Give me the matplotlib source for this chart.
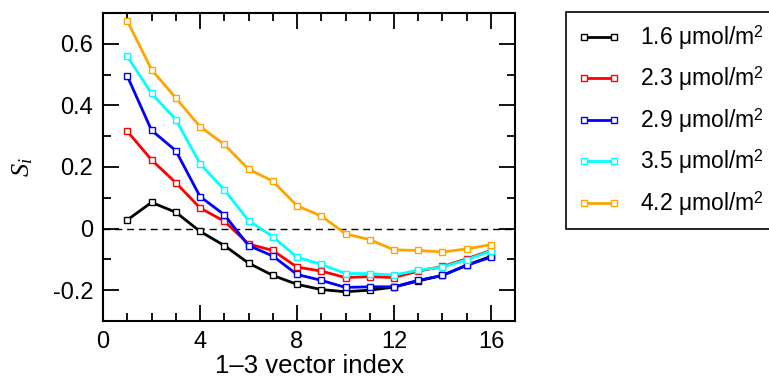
import numpy as np
import matplotlib
matplotlib.use("Agg")
import matplotlib.pyplot as plt
from matplotlib.ticker import MultipleLocator

plt.rcParams['font.family'] = ['Liberation Sans', 'DejaVu Sans']
plt.rcParams['mathtext.fontset'] = 'custom'
plt.rcParams['mathtext.rm'] = 'Liberation Sans'
plt.rcParams['mathtext.it'] = 'Liberation Serif:italic'

"""Data"""
index = np.arange(1, 17)
s_16 = [0.028, 0.085, 0.053, -0.009, -0.055, -0.112, -0.152, -0.181,
        -0.198, -0.205, -0.200, -0.190, -0.170, -0.152, -0.119, -0.090]
s_23 = [0.316, 0.223, 0.149, 0.067, 0.024, -0.050, -0.071, -0.125,
        -0.138, -0.159, -0.156, -0.159, -0.138, -0.123, -0.098, -0.071]
s_29 = [0.495, 0.319, 0.253, 0.104, 0.045, -0.055, -0.089, -0.149,
        -0.168, -0.191, -0.189, -0.189, -0.168, -0.152, -0.119, -0.093]
s_35 = [0.559, 0.439, 0.354, 0.211, 0.126, 0.026, -0.026, -0.093,
        -0.116, -0.146, -0.146, -0.151, -0.135, -0.125, -0.101, -0.073]
s_42 = [0.674, 0.516, 0.424, 0.331, 0.273, 0.193, 0.154, 0.074,
        0.041, -0.017, -0.036, -0.069, -0.071, -0.076, -0.066, -0.052]

series = [s_16, s_23, s_29, s_35, s_42]
labels = ["1.6 \u03bcmol/m$^2$", "2.3 \u03bcmol/m$^2$", "2.9 \u03bcmol/m$^2$",
          "3.5 \u03bcmol/m$^2$", "4.2 \u03bcmol/m$^2$"]
colors = ["black", "red", "blue", "cyan", "orange"]

"""Plot"""
fig = plt.figure(figsize=(7.69, 3.81), dpi=100)
ax = fig.add_axes([0.134, 0.1575, 0.536, 0.8085])

ax.axhline(0, color="black", lw=1, ls=(0, (5, 3.5)), zorder=1)
for y, lab, c in zip(series, labels, colors):
    ax.plot(index, y, color=c, lw=2, marker="s", ms=4.6, mfc="white",
            mec=c, mew=1.0, label=lab, zorder=3)

ax.set_xlim(0, 17)
ax.set_ylim(-0.3, 0.7)
ax.xaxis.set_major_locator(MultipleLocator(4))
ax.xaxis.set_minor_locator(MultipleLocator(1))
ax.yaxis.set_major_locator(MultipleLocator(0.2))
ax.yaxis.set_minor_locator(MultipleLocator(0.1))
ax.set_yticks([-0.2, 0, 0.2, 0.4, 0.6])
ax.set_yticklabels(["-0.2", "0", "0.2", "0.4", "0.6"])
ax.tick_params(which="both", direction="in", top=True, right=True,
               labelsize=17, width=1.3)
ax.tick_params(axis="y", pad=7)
ax.tick_params(axis="x", pad=7.5)
ax.tick_params(which="major", length=11.5)
ax.tick_params(which="minor", length=5.5)
for sp in ax.spines.values():
    sp.set_linewidth(1.5)

ax.set_xlabel("1\u20133 vector index", fontsize=18.5, labelpad=0.5)
ax.set_ylabel("$S_i$", fontsize=19, labelpad=13)

leg = fig.legend(loc="upper left", bbox_to_anchor=(0.736, 0.969),
                 fontsize=16.5, numpoints=2, fancybox=False, edgecolor="black",
                 framealpha=1, handlelength=1.9, handletextpad=0.85,
                 labelspacing=0.55, borderpad=0.5, borderaxespad=0)
leg.get_frame().set_linewidth(1.2)

fig.savefig("out.png", dpi=100)
